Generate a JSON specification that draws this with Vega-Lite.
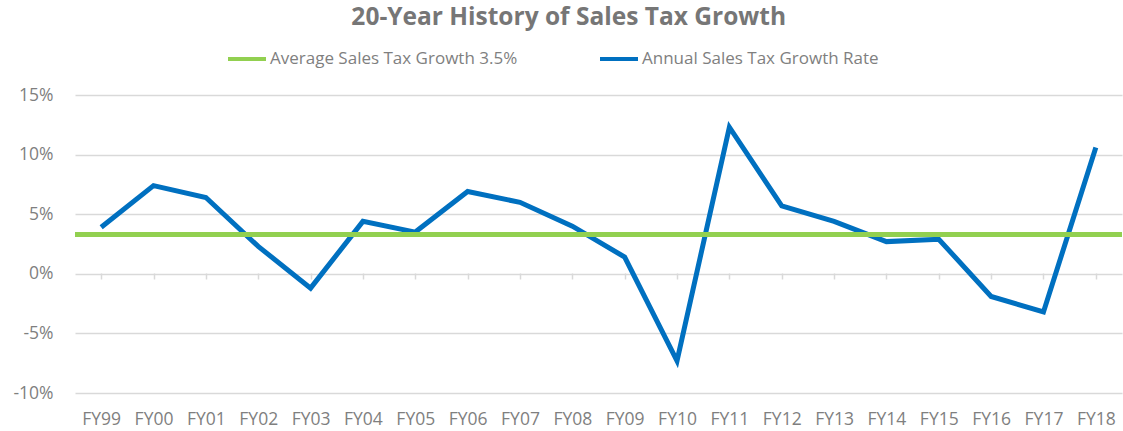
{
  "$schema": "https://vega.github.io/schema/vega-lite/v6.json",
  "width": 1047,
  "height": 298,
  "autosize": "none",
  "padding": {"left": 75, "top": 95, "right": 1, "bottom": 38},
  "background": "white",
  "config": {"font": "Open Sans", "view": {"stroke": null}},
  "title": {"text": "20-Year History of Sales Tax Growth", "fontSize": 24.5, "fontWeight": "bold", "color": "#767676", "anchor": "middle", "frame": "bounds", "offset": 8},
  "datasets": {
    "rates": [
      {"fy": "FY99", "value": 3.9, "series": "Annual Sales Tax Growth Rate"},
      {"fy": "FY00", "value": 7.4, "series": "Annual Sales Tax Growth Rate"},
      {"fy": "FY01", "value": 6.4, "series": "Annual Sales Tax Growth Rate"},
      {"fy": "FY02", "value": 2.3, "series": "Annual Sales Tax Growth Rate"},
      {"fy": "FY03", "value": -1.2, "series": "Annual Sales Tax Growth Rate"},
      {"fy": "FY04", "value": 4.4, "series": "Annual Sales Tax Growth Rate"},
      {"fy": "FY05", "value": 3.5, "series": "Annual Sales Tax Growth Rate"},
      {"fy": "FY06", "value": 6.9, "series": "Annual Sales Tax Growth Rate"},
      {"fy": "FY07", "value": 6.0, "series": "Annual Sales Tax Growth Rate"},
      {"fy": "FY08", "value": 4.0, "series": "Annual Sales Tax Growth Rate"},
      {"fy": "FY09", "value": 1.4, "series": "Annual Sales Tax Growth Rate"},
      {"fy": "FY10", "value": -7.3, "series": "Annual Sales Tax Growth Rate"},
      {"fy": "FY11", "value": 12.3, "series": "Annual Sales Tax Growth Rate"},
      {"fy": "FY12", "value": 5.7, "series": "Annual Sales Tax Growth Rate"},
      {"fy": "FY13", "value": 4.4, "series": "Annual Sales Tax Growth Rate"},
      {"fy": "FY14", "value": 2.7, "series": "Annual Sales Tax Growth Rate"},
      {"fy": "FY15", "value": 2.9, "series": "Annual Sales Tax Growth Rate"},
      {"fy": "FY16", "value": -1.9, "series": "Annual Sales Tax Growth Rate"},
      {"fy": "FY17", "value": -3.2, "series": "Annual Sales Tax Growth Rate"},
      {"fy": "FY18", "value": 10.6, "series": "Annual Sales Tax Growth Rate"}
    ],
    "avg": [
      {"value": 3.3, "series": "Average Sales Tax Growth 3.5%"}
    ]
  },
  "layer": [
    {
      "data": {"name": "rates"},
      "mark": {"type": "line", "strokeWidth": 5, "strokeJoin": "miter", "strokeCap": "butt"},
      "encoding": {
        "x": {"field": "fy", "type": "ordinal", "sort": null,
          "scale": {"paddingInner": 0, "paddingOuter": 0},
          "axis": {"title": null, "domain": false, "ticks": false, "grid": false, "labelAngle": 0, "labelFontSize": 17.5, "labelColor": "#7F7F7F", "labelPadding": 17}},
        "y": {"field": "value", "type": "quantitative",
          "scale": {"domain": [-10, 15], "nice": false},
          "axis": {"title": null, "values": [-10, -5, 0, 5, 10, 15], "labelExpr": "datum.value + '%'", "domain": false, "ticks": false, "labelFontSize": 17.5, "labelColor": "#7F7F7F", "labelPadding": 22, "gridColor": "#D9D9D9", "gridWidth": 1.5}},
        "color": {"field": "series", "type": "nominal",
          "scale": {"domain": ["Average Sales Tax Growth 3.5%", "Annual Sales Tax Growth Rate"], "range": ["#92D050", "#0070C0"]},
          "legend": {"title": null, "orient": "none", "legendX": 151, "legendY": -57, "direction": "horizontal", "symbolType": "stroke", "symbolSize": 1444, "symbolStrokeWidth": 4, "labelFontSize": 17, "labelColor": "#7F7F7F", "labelOffset": 2, "labelLimit": 500, "columnPadding": 74}}
      }
    },
    {
      "data": {"name": "rates"},
      "mark": {"type": "point", "opacity": 0},
      "encoding": {
        "x": {"field": "fy", "type": "ordinal", "sort": null,
          "axis": {"title": null, "orient": "bottom", "offset": -120, "labels": false, "domain": false, "ticks": true, "bandPosition": 0, "tickSize": 6, "tickColor": "#D9D9D9", "tickWidth": 1.5, "grid": false}},
        "y": {"field": "value", "type": "quantitative"}
      }
    },
    {
      "data": {"name": "avg"},
      "mark": {"type": "rule", "strokeWidth": 5},
      "encoding": {
        "y": {"field": "value", "type": "quantitative"},
        "color": {"field": "series", "type": "nominal"}
      }
    }
  ],
  "resolve": {"axis": {"x": "independent"}}
}
